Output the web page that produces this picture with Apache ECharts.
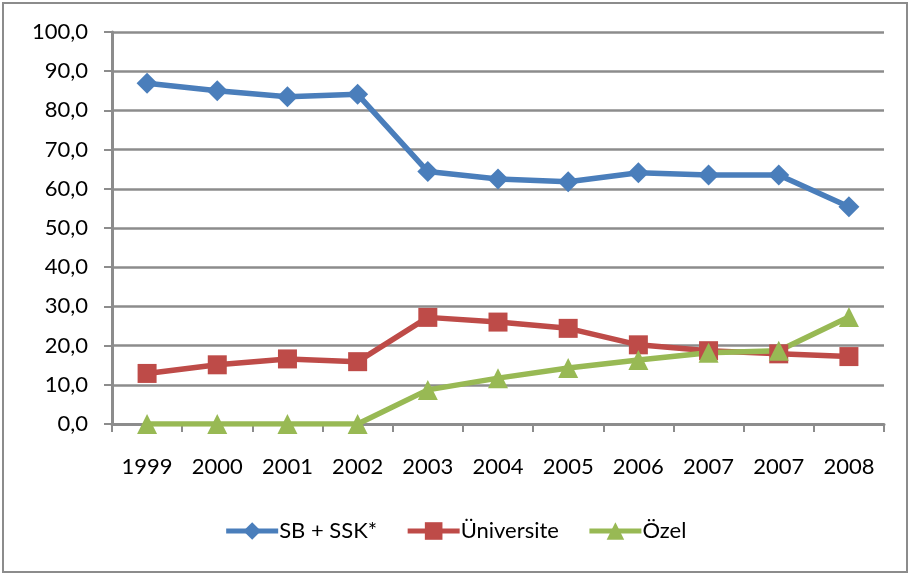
<!DOCTYPE html>
<html><head><meta charset="utf-8">
<script src="https://cdn.jsdelivr.net/npm/echarts@6/dist/echarts.min.js"></script>
<style>html,body{margin:0;padding:0;background:#fff}#c{width:910px;height:576px}</style>
</head><body><div id="c"></div>
<script>
const categories = ['1999','2000','2001','2002','2003','2004','2005','2006','2007','2007','2008'];
const sbSsk = [86.9, 85.0, 83.5, 84.1, 64.4, 62.5, 61.8, 64.1, 63.5, 63.5, 55.4];
const universite = [12.9, 15.1, 16.6, 15.9, 27.2, 26.0, 24.4, 20.2, 18.7, 17.9, 17.2];
const ozel = [0, 0, 0, 0, 8.7, 11.7, 14.3, 16.3, 18.2, 18.7, 27.3];
const seriesNames = ['SB + SSK*', 'Üniversite', 'Özel'];

const font = 'Lato, "Open Sans", sans-serif';
const chart = echarts.init(document.getElementById('c'), null, {renderer:'canvas'});
function mk(name, data, color, symbol, size){
  return {name, type:'line', data, symbol, symbolSize:size, color,
    lineStyle:{width:5.5, color}, itemStyle:{color}, animation:false};
}
chart.setOption({
  animation:false,
  textStyle:{fontFamily:font},
  graphic:[{type:'rect', shape:{x:3,y:3,width:904,height:569}, style:{fill:'none', stroke:'#8c8c8c', lineWidth:2}, silent:true}],
  grid:{left:112, right:26, top:32, bottom:152, containLabel:false},
  legend:{bottom:29, left:'center', itemWidth:52, itemHeight:22, itemGap:28,
    lineStyle:{width:5},
    textStyle:{fontFamily:font, fontSize:22, color:'#000', padding:[0,0,0,-4]},
    data:seriesNames},
  xAxis:{type:'category', data:categories, boundaryGap:true,
    axisLine:{lineStyle:{color:'#8c8c8c', width:3}},
    axisTick:{show:true, length:8, lineStyle:{color:'#8c8c8c', width:2}},
    axisLabel:{color:'#000', fontSize:22, fontFamily:font, margin:32, interval:0}},
  yAxis:{type:'value', min:0, max:100, interval:10,
    axisLine:{show:true, lineStyle:{color:'#8c8c8c', width:3}},
    axisTick:{show:true, length:8, lineStyle:{color:'#8c8c8c', width:2}},
    splitLine:{lineStyle:{color:'#8c8c8c', width:2.5}},
    axisLabel:{color:'#000', fontSize:22, fontFamily:font, margin:24,
      formatter:v=>v.toFixed(1).replace('.',',')}},
  series:[
    mk(seriesNames[0], sbSsk, '#4a7ebb', 'diamond', 21),
    mk(seriesNames[1], universite, '#be4b48', 'rect', 19),
    mk(seriesNames[2], ozel, '#98b954', 'triangle', 20)
  ]
});
</script></body></html>
